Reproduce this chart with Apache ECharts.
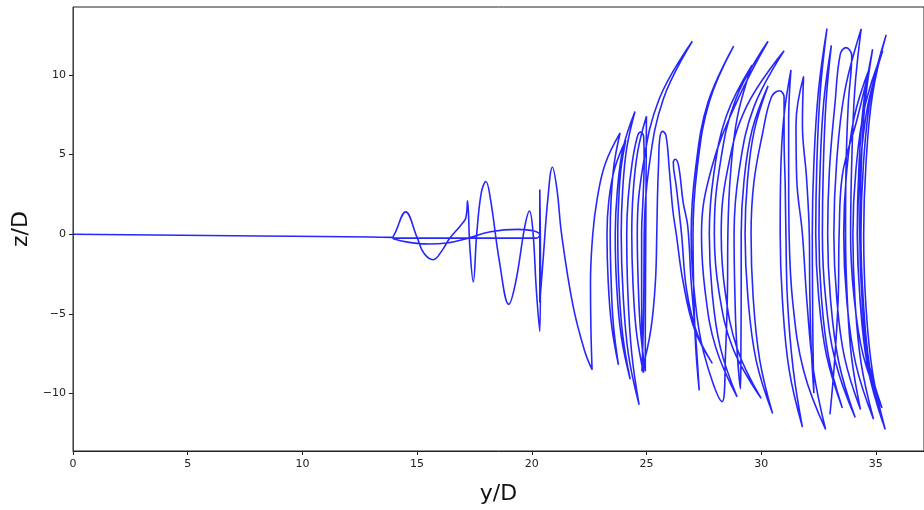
<!DOCTYPE html>
<html><head><meta charset="utf-8">
<script src="https://cdn.jsdelivr.net/npm/echarts@6/dist/echarts.min.js"></script>
<style>html,body{margin:0;padding:0;background:#fff}#c{width:924px;height:510px}</style>
</head><body><div id="c"></div>
<script>
// tick labels
const xTicks = [0, 5, 10, 15, 20, 25, 30, 35];
const zTicks = [-10, -5, 0, 5, 10];

// trajectory, [y/D, z/D] pairs
const approach = [[0,0],[7,-0.1],[13.9,-0.2]];
const early = [[14.0,-0.3],[14.6,-0.5],[15.5,-0.62],[16.3,-0.55],[17.1,-0.3],[18.2,0.15],[19.4,0.3],[20.1,0.2],[20.35,-0.05],[20.2,-0.25],[17.5,-0.25],[14.2,-0.25],[13.95,-0.2],[14.05,0.1],[14.5,1.4],[15.0,-0.2],[15.3,-1.2],[15.7,-1.6],[16.1,-1.0],[16.4,-0.3],[16.9,0.55],[17.12,1.0],[17.2,2.1],[17.3,-0.8],[17.45,-3.0],[17.6,0],[17.8,2.6],[18.0,3.3],[18.2,2.2],[18.6,-1.8],[19.0,-4.4],[19.3,-3.0],[19.7,0.5],[19.9,1.45],[20.05,0.2],[20.2,-3.5],[20.35,-6.1],[20.38,-2],[20.35,2.8],[20.35,-1],[20.35,-4.3],[20.5,-1.5],[20.7,2.2],[20.9,4.2],[21.1,2.8],[21.3,0],[21.8,-4.5],[22.3,-7.3],[22.63,-8.5]];
const leftCluster = [
[22.58,-6],[22.56,-3],[22.66,0],[22.85,2.2],[23.2,4.4],[23.85,6.35],
[23.59,4.4],[23.46,2.2],[23.42,0],[23.46,-2.9],[23.56,-5.7],[23.78,-8.2],
[23.48,-5.7],[23.33,-2.9],[23.28,0],[23.36,2.1],[23.61,4.1],[24.1,5.9],
[23.89,4.1],[23.79,2.1],[23.75,0],[23.8,-3.2],[23.97,-6.4],[24.29,-9.1],
[23.9,-6.4],[23.7,-3.2],[23.64,0],[23.73,2.7],[23.98,5.4],[24.5,7.7],
[24.14,5.4],[23.96,2.7],[23.9,0],[23.98,-3.7],[24.21,-7.5],[24.68,-10.7],
[24.36,-7.5],[24.19,-3.7],[24.14,0],[24.2,2.2],[24.38,4.5],[24.6,6.1],[24.75,6.4],[24.88,6.1],
[24.9,4.5],[24.85,2.2],[24.79,0],[24.79,-3],[24.8,-6],[24.87,-8.7],
[24.56,-6.1],[24.41,-3],[24.36,0],[24.42,2.6],[24.62,5.2],[25.0,7.4],
[24.99,5.2],[24.98,2.6],[24.97,0],[24.96,-3],[24.95,-6],[24.95,-8.6]];
const midCluster = [
[24.74,-6.0],[24.64,-3.0],[24.6,0],[24.84,4.2],[25.56,8.5],[27.0,12.1],
[25.74,8.5],[25.11,4.2],[24.9,0],[24.89,-3.0],[24.86,-6.0],[24.8,-8.6],
[25.19,-6.0],[25.39,-3.0],[25.45,0],[25.48,2.3],[25.53,4.5],[25.58,6.0],[25.7,6.45],[25.85,6.2],
[26.0,4.0],[26.15,1.5],[26.3,0],[26.6,-3],[27.1,-6],[27.87,-8.1],
[27.2,-6.2],[26.75,-3.5],[26.53,0],[26.3,3.0],[26.17,4.5],[26.25,4.7],[26.4,4.3],
[26.6,2],[26.8,0.5],[26.95,-3],[27.15,-6.5],[27.3,-9.8],
[27.14,-6.9],[27.06,-3.4],[27.03,0],[27.21,4.1],[27.74,8.3],[28.8,11.8],
[27.69,8.3],[27.14,4.1],[26.95,0],[27.09,-3.7],[27.49,-7.4],[28.3,-10.5],
[28.45,-7.4],[28.53,-3.7],[28.55,0],[28.66,3.7],[28.97,7.4],[29.6,10.6],
[28.48,7.4],[27.93,3.7],[27.74,0],[27.86,-3.6],[28.22,-7.1],[28.95,-10.2],
[28.02,-7.1],[27.56,-3.6],[27.4,0],[27.85,4.2],[29.0,8.5],[30.3,12.1],
[28.9,8.5],[28.19,4.2],[27.96,0],[28.16,-3.6],[28.78,-7.2],[30.0,-10.3],
[28.96,-7.2],[28.43,-3.6],[28.26,0],[28.53,4.0],[29.36,8.0],[31.0,11.5],
[29.69,8.0],[29.04,4.0],[28.82,0],[28.85,-3.4],[28.93,-6.8],[29.1,-9.7],
[29.12,-6.8],[29.13,-3.4],[29.13,0],[29.25,3.3],[29.6,6.5],[30.3,9.3],
[29.7,6.5],[29.4,3.3],[29.3,0],[29.42,-3.9],[29.78,-7.9],[30.5,-11.25],
[29.94,-7.9],[29.65,-3.9],[29.56,0],[29.68,3.2],[30.06,6.3],[30.45,8.6],[30.8,9.0],[31.0,8.6],
[31.0,6.0],[31.05,3],[31.08,0],[31.15,-4.2],[31.4,-8.5],[31.8,-12.1]];
const rightCluster = [
[31.22,-8.5],[30.93,-4.2],[30.83,0],[30.85,3.6],[30.98,7.2],[31.3,10.3],
[31.2,7.2],[31.2,3.6],[31.22,0],[31.38,-4.3],[31.86,-8.6],[32.81,-12.25],
[32.29,-8.6],[32.0,-4.3],[31.8,0],[31.55,3.5],[31.52,6.9],[31.85,9.9],
[31.8,6.9],[31.98,3.5],[32.1,0],[32.12,-3.5],[32.18,-7.0],[32.3,-9.97],
[32.26,-7.0],[32.24,-3.5],[32.23,0],[32.3,4.5],[32.5,9.0],[32.87,12.9],
[32.58,9.0],[32.43,4.5],[32.38,0],[32.5,-3.8],[32.85,-7.6],[33.54,-10.9],
[32.93,-7.6],[32.62,-3.8],[32.52,0],[32.57,4.1],[32.73,8.3],[33.06,11.84],
[32.83,8.3],[32.71,4.1],[32.67,0],[32.81,-4.0],[33.24,-8.0],[34.1,-11.5],
[33.38,-8.0],[33.02,-4.0],[32.9,0],[32.98,4.1],[33.22,8.2],[33.45,11.3],[33.7,11.7],[33.95,11.2],
[33.8,8.2],[33.7,4.1],[33.68,0],[33.75,-3.9],[33.94,-7.7],[34.33,-11.0],
[33.63,-7.7],[33.29,-3.9],[33.17,0],[33.29,4.5],[33.65,9.0],[34.36,12.87],
[34.08,9.0],[33.95,4.5],[33.9,0],[34.04,-3.8],[34.45,-7.6],[35.27,-10.9],
[34.62,-7.6],[34.3,-3.8],[34.19,0],[34.26,4.1],[34.46,8.1],[34.86,11.6],
[34.52,8.1],[34.36,4.1],[34.3,0],[34.41,-4.3],[34.74,-8.6],[35.41,-12.25],
[34.85,-8.6],[34.56,-4.3],[34.47,0],[34.57,4.4],[34.86,8.8],[35.45,12.5],
[34.79,8.8],[34.46,4.4],[34.35,0],[34.45,-4.1],[34.73,-8.3],[35.3,-11.8],
[34.64,-8.3],[34.31,-4.1],[34.2,0],[34.31,4],[34.64,8],[35.3,11.5],
[34.52,8],[34.13,4],[34.0,0],[34.09,-4.1],[34.36,-8.1],[34.9,-11.6],
[34.12,-8.1],[33.73,-4.1],[33.6,0],[33.71,3.6],[34.05,7.3],[34.72,10.4],
[34.2,7.3],[33.53,3.6],[33.4,0],[33.36,-4],[33.2,-8],[33.0,-11.3]];

const path = approach.concat(early, leftCluster, midCluster, rightCluster);
const fmt = v => String(v).replace('-', '\u2212');
const font = 'DejaVu Sans';
const chart = echarts.init(document.getElementById('c'), null, {renderer: 'canvas'});
chart.setOption({
  animation: false,
  grid: {left: 73, top: 7, right: -5, bottom: 57, show: true, borderColor: '#222', borderWidth: 1},
  xAxis: {
    type: 'value', min: 0, max: 37.1, interval: 5,
    name: 'y/D', nameLocation: 'middle', nameGap: 32,
    nameTextStyle: {fontFamily: font, fontSize: 22, color: '#111'},
    axisLine: {show: true, onZero: false, lineStyle: {color: '#222'}},
    axisTick: {show: true, length: 4, lineStyle: {color: '#222'}, customValues: xTicks},
    axisLabel: {fontFamily: font, fontSize: 11, color: '#222', margin: 8, customValues: xTicks, formatter: fmt},
    splitLine: {show: false}
  },
  yAxis: {
    type: 'value', min: -13.6, max: 14.25,
    name: 'z/D', nameLocation: 'middle', nameGap: 41,
    nameTextStyle: {fontFamily: font, fontSize: 22, color: '#111'},
    axisLine: {show: true, onZero: false, lineStyle: {color: '#444'}},
    axisTick: {show: true, length: 4, lineStyle: {color: '#222'}, customValues: zTicks},
    axisLabel: {fontFamily: font, fontSize: 11, color: '#222', margin: 7, customValues: zTicks, formatter: fmt},
    splitLine: {show: false}
  },
  series: [{
    type: 'line', data: path, smooth: 0.4, symbol: 'none', clip: true,
    lineStyle: {color: 'rgba(0,0,255,0.85)', width: 1.6}
  }]
});
</script></body></html>
